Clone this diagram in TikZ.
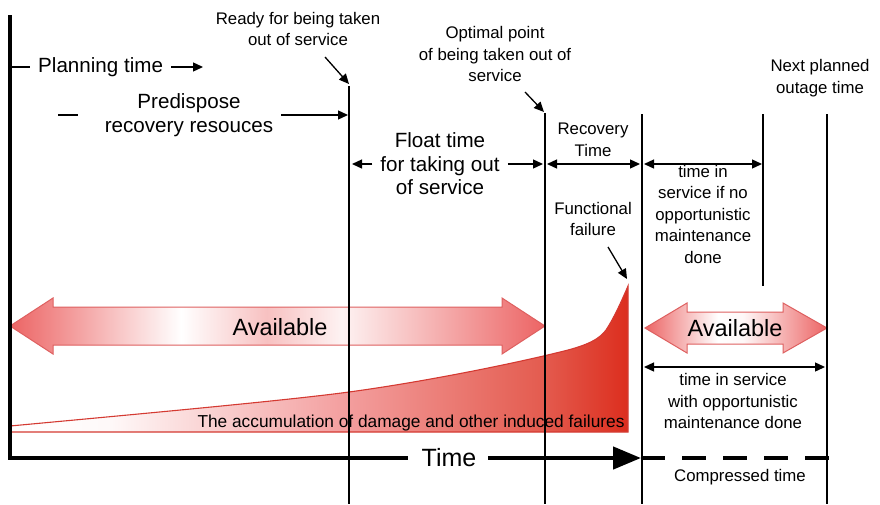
\documentclass[tikz,border=0pt]{standalone}
\usepackage{fontspec}
\setmainfont{Liberation Sans}
\usetikzlibrary{arrows.meta,calc}

\definecolor{availred}{RGB}{236,100,100}
\definecolor{availedge}{RGB}{222,96,96}
\definecolor{dmgred}{RGB}{220,46,30}
\definecolor{dmgedge}{RGB}{212,58,50}

% shadings: the middle 50bp (25bp..75bp) spans the filled shape
\pgfdeclarehorizontalshading{longavail}{100bp}{%
  color(0bp)=(availred); color(25bp)=(availred); color(41bp)=(white);
  color(49bp)=(availred!40); color(56bp)=(white!92!availred);
  color(75bp)=(availred); color(100bp)=(availred)}
\pgfdeclarehorizontalshading{shortavail}{100bp}{%
  color(0bp)=(availred); color(25bp)=(availred); color(45bp)=(white);
  color(52bp)=(white!95!availred); color(75bp)=(availred); color(100bp)=(availred)}
\pgfdeclarehorizontalshading{damage}{100bp}{%
  color(0bp)=(white); color(25bp)=(white); color(33bp)=(white!96!availred);
  color(52bp)=(availred!62); color(68bp)=(dmgred!78); color(75bp)=(dmgred);
  color(100bp)=(dmgred)}

\tikzset{
  small/.style={font=\fontsize{16.8}{21.5}\selectfont, align=center, inner sep=0pt},
  medium/.style={font=\fontsize{20.6}{23.5}\selectfont, align=center, inner sep=0pt},
  large/.style={font=\fontsize{23.5}{26}\selectfont, inner sep=0pt},
  marker/.style={line width=1.3pt},
  tip/.style={-{Triangle[length=10pt,width=9pt]}, line width=1.3pt},
  twotip/.style={{Triangle[length=10pt,width=9pt]}-{Triangle[length=10pt,width=9pt]}, line width=1.3pt},
  axisline/.style={line width=4pt},
}

\begin{document}
\begin{tikzpicture}[x=1pt,y=-1pt]
\useasboundingbox (0,0) rectangle (880,504);

% ---- shaded shapes ----
\path[draw=dmgedge, line width=1.1pt, shading=damage]
  (10,426) .. controls (150,413) and (290,400) .. (349,392)
  .. controls (430,381) and (520,362) .. (560,352)
  .. controls (590,345) and (600,338) .. (606,330)
  .. controls (614,318) and (622,300) .. (628,286)
  -- (628,432) -- (10,432) -- cycle;

\path[draw=availedge, line width=1pt, shading=longavail]
  (10,326) -- (53,298) -- (53,307) -- (502,307) -- (502,298) -- (545,326)
  -- (502,354) -- (502,345) -- (53,345) -- (53,354) -- cycle;

\path[draw=availedge, line width=1pt, shading=shortavail]
  (645,328) -- (687,303) -- (687,312) -- (783,312) -- (783,303) -- (827,328)
  -- (783,353) -- (783,344) -- (687,344) -- (687,353) -- cycle;

% ---- texts ----
\node[small] (ready) at (298,29) {Ready for being taken\\out of service};
\node[small] (optimal) at (495,54) {Optimal point\\of being taken out of\\service};
\node[small] (nextout) at (820,78) {Next planned\\outage time};
\node[medium, anchor=west] (planning) at (38,67) {Planning time};
\node[medium] (predispose) at (189,115) {Predispose\\recovery resouces};
\node[medium] (float) at (440,164) {Float time\\for taking out\\of service};
\node[small] (recovery) at (593,140) {Recovery\\Time};
\node[small] (noopp) at (703,214) {time in\\service if no\\opportunistic\\maintenance\\done};
\node[small] (functional) at (593,219) {Functional\\failure};
\node[large] (availA) at (280,327) {Available};
\node[large] (availB) at (735,328) {Available};
\node[small, font=\fontsize{17.3}{20}\selectfont] (damagetext) at (411,423) {The accumulation of damage and other induced failures};
\node[font=\fontsize{25}{28}\selectfont, inner sep=0pt] (timetext) at (449,458) {Time};
\node[small] (compressed) at (740,477) {Compressed time};
\node[small] (withopp) at (733,401) {time in service\\with opportunistic\\maintenance done};

% ---- named points ----
\coordinate (aTop) at (349,86);   \coordinate (aBot) at (349,504);
\coordinate (bTop) at (545,113);  \coordinate (bBot) at (545,504);
\coordinate (cTop) at (642,114);  \coordinate (cBot) at (642,504);
\coordinate (dTop) at (763,114);  \coordinate (dBot) at (763,286);
\coordinate (eTop) at (827,114);  \coordinate (eBot) at (827,504);
\coordinate (axTop) at (10,15);   \coordinate (origin) at (10,458);
\coordinate (axEnd) at (408,458);
\coordinate (tStart) at (488,458); \coordinate (tEnd) at (641,458);
\coordinate (dashEnd) at (830,458);

% ---- axes ----
\draw[axisline, line cap=butt] (axTop) -- (origin) -- (axEnd);
\draw[line width=4.5pt, -{Triangle[length=28pt,width=22pt]}] (tStart) -- (tEnd);
\draw[axisline, dash pattern=on 24pt off 17pt] (tEnd) -- (dashEnd);

% ---- event lines ----
\draw[marker] (aTop) -- (aBot);
\draw[marker] (bTop) -- (bBot);
\draw[marker] (cTop) -- (cBot);
\draw[marker] (dTop) -- (dBot);
\draw[marker] (eTop) -- (eBot);

% ---- row markers ----
\coordinate (planL) at (12,67);
\coordinate (planR) at (203,67);
\draw[marker] (planL) -- ($(planning.west)+(-8,0)$);
\draw[tip] ($(planning.east)+(8,0)$) -- (planR);

\coordinate (preL) at (58,115);
\coordinate (preLe) at (78,115);
\coordinate (preR) at (348,115);
\draw[marker] (preL) -- (preLe);
\draw[tip] ($(predispose.east)+(8,0)$) -- (preR);

\draw[tip] ($(float.west)+(-8,0)$) -- (352,164);
\draw[tip] ($(float.east)+(8,0)$) -- (543,164);

\coordinate (recL) at (547,164);  \coordinate (recR) at (640,164);
\draw[twotip] (recL) -- (recR);
\coordinate (noL) at (644,164);   \coordinate (noR) at (762,164);
\draw[twotip] (noL) -- (noR);
\coordinate (wL) at (644,367);    \coordinate (wR) at (825,367);
\draw[twotip] (wL) -- (wR);

% ---- pointers ----
\coordinate (readyFrom) at (325,57);   \coordinate (readyTo) at (349,84);
\draw[tip] (readyFrom) -- (readyTo);
\coordinate (optFrom) at (525,92);     \coordinate (optTo) at (544,112);
\draw[tip] (optFrom) -- (optTo);
\coordinate (funcFrom) at (608,247);   \coordinate (funcTo) at (627,279);
\draw[tip] (funcFrom) -- (funcTo);
\end{tikzpicture}
\end{document}
